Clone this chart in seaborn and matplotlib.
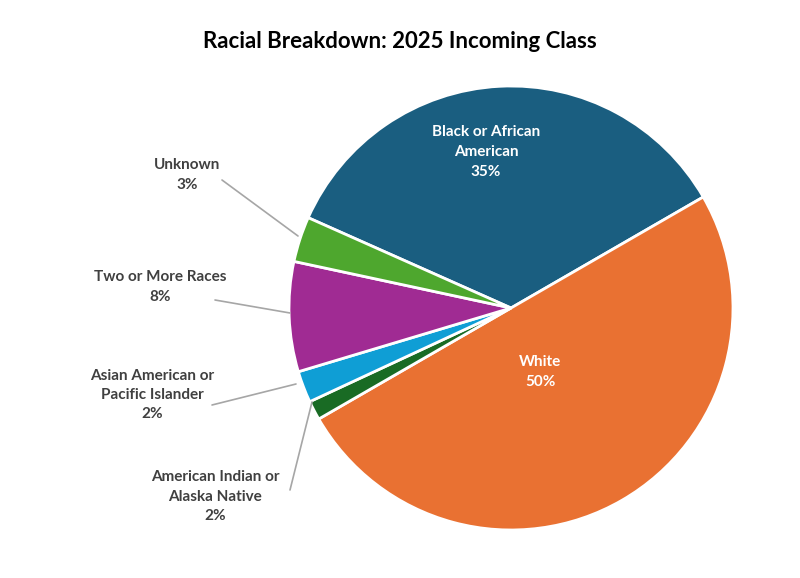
import matplotlib
matplotlib.use("Agg")
import matplotlib.pyplot as plt
import seaborn as sns

sns.set_theme(style="white", font="Lato")

categories = ["Black or African\nAmerican", "White", "American Indian or\nAlaska Native",
              "Asian American or\nPacific Islander", "Two or More Races", "Unknown"]
values = [35.0, 50.0, 1.4, 2.3, 8.0, 3.3]
pct_labels = ["35%", "50%", "2%", "2%", "8%", "3%"]
colors = ["#1a5e80", "#e97132", "#196b24", "#0f9ed5", "#a02b93", "#4ea72e"]

W, H = 800, 578
cx, cy, r = 511, 308, 222

def d(px, py):
    # pixel -> data coords
    return ((px - cx) / r, (cy - py) / r)

fig = plt.figure(figsize=(W / 100, H / 100), dpi=100)
ax = fig.add_axes([(cx - r) / W, 1 - (cy + r) / H, 2 * r / W, 2 * r / H])
ax.pie(values, colors=colors, startangle=156, counterclock=False, radius=1,
       wedgeprops=dict(edgecolor="white", linewidth=2))
ax.set_xlim(-1, 1)
ax.set_ylim(-1, 1)
ax.set_aspect("equal")
ax.axis("off")

# inside labels
for i, pos in [(0, (486, 152)), (1, (540, 372))]:
    ax.text(*d(*pos), f"{categories[i]}\n{pct_labels[i]}", color="white",
            fontsize=11, fontweight="bold", ha="center", va="center", linespacing=1.5)

# outside labels with leader lines: (index, text pos, line start, line end)
outside = [
    (5, (187, 175), (222, 180), (298, 236)),
    (4, (160, 287), (215, 300), (290, 313)),
    (3, (152, 395), (212, 405), (296, 384)),
    (2, (215, 497), (290, 490), (312, 402)),
]
for i, tpos, lstart, lend in outside:
    ax.text(*d(*tpos), f"{categories[i]}\n{pct_labels[i]}", color="#404040",
            fontsize=11, fontweight="bold", ha="center", va="center", linespacing=1.5)
    xs, ys = zip(d(*lstart), d(*lend))
    ax.plot(xs, ys, color="#a6a6a6", linewidth=1.2, clip_on=False)

fig.text(0.5, 1 - 42 / H, "Racial Breakdown: 2025 Incoming Class", ha="center",
         va="center", fontsize=16, fontweight="bold", color="black")

fig.savefig("out.png", dpi=100, facecolor="white")
